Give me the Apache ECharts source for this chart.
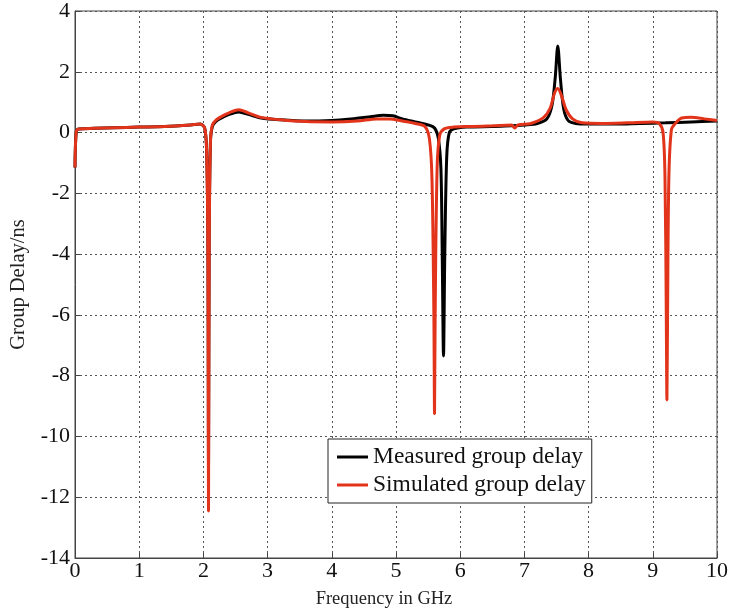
<!DOCTYPE html>
<html><head><meta charset="utf-8">
<script src="https://cdn.jsdelivr.net/npm/echarts@6/dist/echarts.min.js"></script>
<style>html,body{margin:0;padding:0;background:#fff}#c{width:731px;height:615px}</style>
</head><body><div id="c"></div>
<script>
const xTicks = [0,1,2,3,4,5,6,7,8,9,10];
const yTicks = [-14,-12,-10,-8,-6,-4,-2,0,2,4];
const measX = [0,0.02,0.06,0.3,0.6,1.0,1.4,1.8,1.95,2.02,2.05,2.07,2.08,2.09,2.11,2.14,2.2,2.3,2.4,2.55,2.7,2.9,3.2,3.6,4.0,4.3,4.6,4.8,4.95,5.1,5.3,5.5,5.6,5.66,5.7,5.72,5.74,5.76,5.79,5.83,5.9,6.1,6.5,6.8,7.0,7.2,7.35,7.43,7.48,7.52,7.56,7.61,7.68,7.8,8.0,8.4,8.8,9.2,9.6,10];
const measY = [-1.15,0.05,0.12,0.14,0.16,0.18,0.2,0.25,0.28,0.15,-0.6,-3.5,-11,-3.5,-0.3,0.2,0.38,0.5,0.6,0.68,0.6,0.48,0.42,0.38,0.4,0.45,0.52,0.57,0.55,0.45,0.35,0.25,0.15,-0.2,-1.2,-4,-7.35,-4,-0.8,0,0.12,0.18,0.2,0.22,0.25,0.3,0.45,0.9,1.8,2.85,1.8,0.8,0.4,0.3,0.28,0.28,0.3,0.32,0.35,0.38];
const simX = [0,0.02,0.06,0.3,0.6,1.0,1.4,1.8,1.95,2.02,2.05,2.07,2.08,2.09,2.11,2.14,2.2,2.3,2.4,2.55,2.7,2.9,3.2,3.6,4.0,4.4,4.7,4.9,5.1,5.3,5.45,5.52,5.56,5.59,5.6,5.61,5.64,5.68,5.75,5.9,6.2,6.5,6.8,6.85,6.9,7.1,7.3,7.4,7.47,7.52,7.58,7.65,7.75,7.9,8.2,8.6,9.0,9.1,9.16,9.19,9.21,9.22,9.23,9.25,9.29,9.35,9.45,9.6,9.8,10];
const simY = [-1.15,0.05,0.12,0.14,0.16,0.18,0.2,0.25,0.28,0.15,-0.6,-4,-12.45,-4,-0.3,0.25,0.42,0.55,0.65,0.75,0.65,0.5,0.42,0.36,0.35,0.38,0.45,0.45,0.38,0.3,0.2,-0.2,-1.5,-6,-9.25,-6,-1.2,-0.1,0.12,0.18,0.2,0.22,0.25,0.15,0.25,0.3,0.5,0.8,1.3,1.45,1.2,0.75,0.45,0.32,0.3,0.32,0.35,0.3,0.0,-1.5,-6,-8.8,-6,-1.5,0.1,0.3,0.48,0.5,0.45,0.4];
const names = ['Measured group delay','Simulated group delay'];

const pair = (xs, ys) => xs.map((x, i) => [x, ys[i]]);
const font = 'Liberation Serif';
const chart = echarts.init(document.getElementById('c'));
chart.setOption({
  animation: false,
  backgroundColor: '#fff',
  grid: {left: 73, right: 13, top: 8, bottom: 57, show: true, borderColor: '#444', borderWidth: 1, backgroundColor: 'transparent'},
  legend: {
    data: names, orient: 'vertical', left: 328, top: 439,
    backgroundColor: '#fff', borderColor: '#222', borderWidth: 1,
    padding: [6, 6, 6, 9], itemGap: 4, itemWidth: 31, itemHeight: 3, icon: 'rect',
    textStyle: {fontFamily: font, fontSize: 23.5, color: '#111'}
  },
  xAxis: {
    type: 'value', min: xTicks[0], max: xTicks[xTicks.length-1], interval: 1,
    name: 'Frequency in GHz', nameLocation: 'middle', nameGap: 32,
    nameTextStyle: {fontFamily: font, fontSize: 18.5, color: '#222', padding: [0, 24, 0, 0]},
    axisLine: {onZero: false, lineStyle: {color: '#444'}},
    axisTick: {inside: true, length: 5, lineStyle: {color: '#444'}},
    axisLabel: {fontFamily: font, fontSize: 22, color: '#111', margin: 2},
    splitLine: {show: true, lineStyle: {color: '#555', type: [2, 3], width: 1}}
  },
  yAxis: {
    type: 'value', min: yTicks[0], max: yTicks[yTicks.length-1], interval: 2,
    name: 'Group Delay/ns', nameLocation: 'middle', nameGap: 46,
    nameTextStyle: {fontFamily: font, fontSize: 20.5, color: '#222'},
    axisLine: {show: true, onZero: false, lineStyle: {color: '#444'}},
    axisTick: {show: true, inside: true, length: 5, lineStyle: {color: '#444'}},
    axisLabel: {fontFamily: font, fontSize: 22, color: '#111', margin: 5},
    splitLine: {show: true, lineStyle: {color: '#555', type: [2, 3], width: 1}}
  },
  series: [
    {name: names[0], type: 'line', data: pair(measX, measY), symbol: 'none', smooth: 0.3,
     lineStyle: {color: '#000', width: 3}, itemStyle: {color: '#000'}},
    {name: names[1], type: 'line', data: pair(simX, simY), symbol: 'none', smooth: 0.3,
     lineStyle: {color: '#e2341b', width: 3}, itemStyle: {color: '#e2341b'}}
  ]
});
</script></body></html>
